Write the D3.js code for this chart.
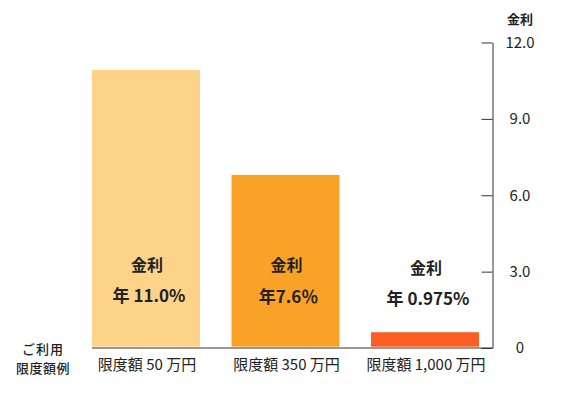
<!DOCTYPE html>
<html><head><meta charset="utf-8">
<script src="https://cdn.jsdelivr.net/npm/d3@7"></script>
<style>
html,body{margin:0;padding:0;background:#fff;}
text{font-family:"Noto Sans CJK JP","Noto Sans",sans-serif;fill:#222;}
</style></head>
<body><svg id="c" width="568" height="393"></svg>
<script>
const categories = ["限度額 50 万円", "限度額 350 万円", "限度額 1,000 万円"];
const barValues = [10.92, 6.8, 0.62];
const rateLabels = ["年 11.0%", "年7.6％", "年 0.975%"];
const barColors = ["#FCD388", "#FAA228", "#FB5E22"];
const tickValues = [0, 3, 6, 9, 12];
const tickLabels = ["0", "3.0", "6.0", "9.0", "12.0"];
const rowTitle = ["ご利用", "限度額例"];

const svg = d3.select("#c");
const x = d3.scaleBand().domain(categories).range([92, 479]).paddingInner(0.226).paddingOuter(0);
const y = d3.scaleLinear().domain([0, 12]).range([348, 42.5]);

svg.selectAll("rect.bar").data(categories).enter().append("rect")
  .attr("class","bar")
  .attr("x", d => x(d))
  .attr("width", x.bandwidth())
  .attr("y", (d,i) => y(barValues[i]))
  .attr("height", (d,i) => y(0) - 1.3 - y(barValues[i]))
  .attr("fill", (d,i) => barColors[i]);

// x axis line
svg.append("line").attr("x1", 92).attr("x2", 492.5).attr("y1", 348).attr("y2", 348)
  .attr("stroke", "#333").attr("stroke-width", 1);

// y axis
const yAxis = d3.axisLeft(y).tickValues(tickValues).tickSize(11).tickSizeOuter(0).tickFormat("");
const ga = svg.append("g").attr("transform", "translate(492.5,0)").call(yAxis);
ga.select(".domain").attr("stroke", "#333");
ga.selectAll(".tick line").attr("stroke", "#333");

svg.selectAll("text.tl").data(tickValues).enter().append("text")
  .attr("class","tl")
  .attr("x", 520).attr("y", d => y(d)).attr("dy", "0.36em")
  .attr("text-anchor", "middle").attr("font-size", 15)
  .text((d,i) => tickLabels[i]);

svg.append("text").attr("x", 520).attr("y", 19).attr("dy","0.36em")
  .attr("text-anchor","middle").attr("font-size", 13).attr("font-weight", 700)
  .text("金利");

// category labels
svg.selectAll("text.cat").data(categories).enter().append("text")
  .attr("class","cat")
  .attr("x", d => x(d) + x.bandwidth()/2 + 1)
  .attr("y", 365).attr("dy","0.36em")
  .attr("text-anchor","middle").attr("font-size", 15)
  .text(d => d);

const rt = svg.append("text").attr("text-anchor","middle").attr("font-size", 13).attr("font-weight", 500);
rt.selectAll("tspan").data(rowTitle).enter().append("tspan")
  .attr("x", 43).attr("y", (d,i) => i === 0 ? 349 : 368).attr("dy","0.36em")
  .attr("letter-spacing", (d,i) => i === 0 ? 1 : 0.5)
  .text(d => d);

// in-bar labels
const labY1 = [265, 265, 268];
const labY2 = [296, 297, 298.5];
svg.selectAll("text.k").data(categories).enter().append("text")
  .attr("class","k")
  .attr("x", d => x(d) + x.bandwidth()/2 + 1)
  .attr("y", (d,i) => labY1[i]).attr("dy","0.36em")
  .attr("text-anchor","middle").attr("font-size", 16).attr("font-weight", 700)
  .text("金利");
svg.selectAll("text.r").data(categories).enter().append("text")
  .attr("class","r")
  .attr("x", d => x(d) + x.bandwidth()/2 + 3)
  .attr("y", (d,i) => labY2[i]).attr("dy","0.36em")
  .attr("text-anchor","middle").attr("font-size", 17).attr("font-weight", 700)
  .text((d,i) => rateLabels[i]);
</script></body></html>
